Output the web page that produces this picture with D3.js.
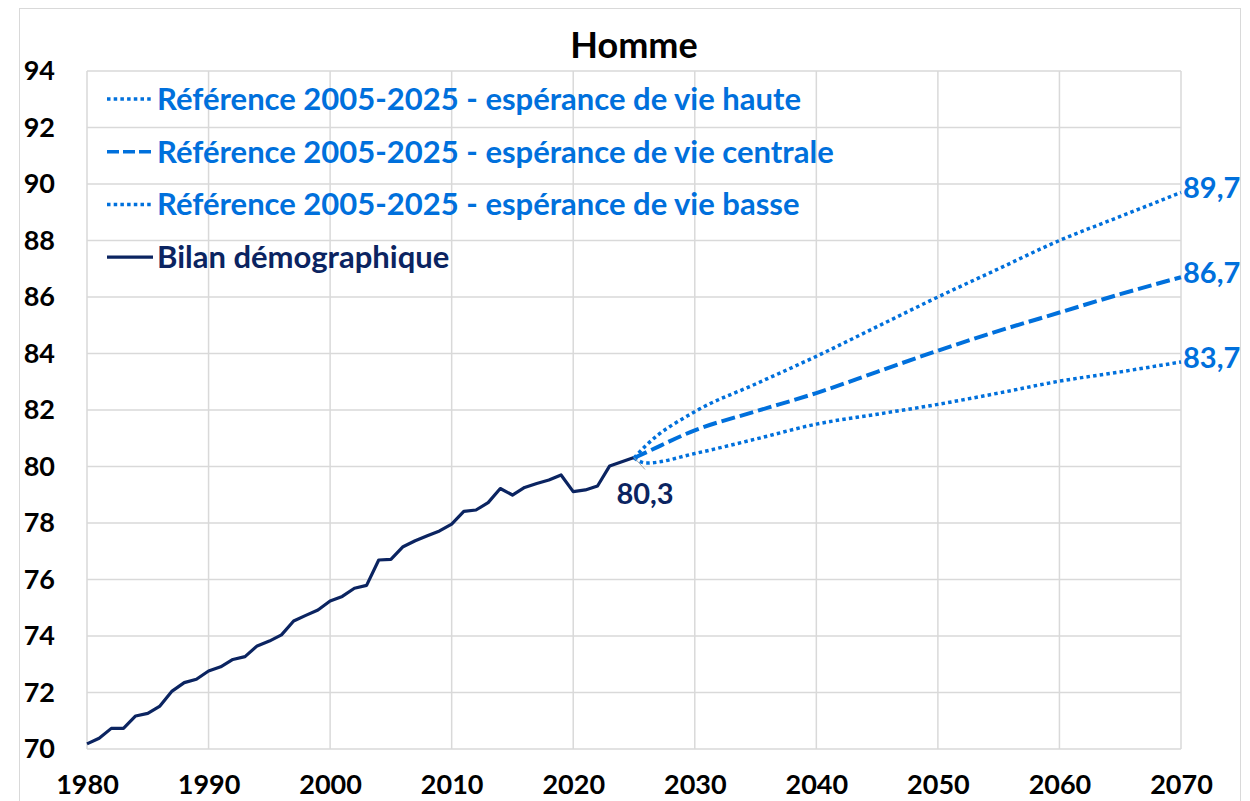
<!DOCTYPE html>
<html>
<head>
<meta charset="utf-8">
<title>Homme</title>
<script src="https://d3js.org/d3.v7.min.js"></script>
<style>
  body { margin: 0; background: white; }
  svg text { font-family: Lato, "Open Sans", sans-serif; font-weight: bold; }
</style>
</head>
<body>
<svg id="chart" width="1250" height="801"></svg>
<script>
// observed series, 1980-2025
const years = d3.range(1980, 2026);
const bilan = [70.18, 70.38, 70.73, 70.73, 71.17, 71.26, 71.52, 72.05, 72.35, 72.47,
               72.76, 72.91, 73.17, 73.27, 73.65, 73.82, 74.04, 74.53, 74.73, 74.92,
               75.24, 75.40, 75.69, 75.79, 76.69, 76.71, 77.16, 77.37, 77.55, 77.72,
               77.96, 78.41, 78.46, 78.72, 79.22, 78.99, 79.26, 79.40, 79.52, 79.70,
               79.11, 79.17, 79.31, 80.02, 80.17, 80.32];

// projections 2025-2070
const projYears = [2025, 2026, 2030, 2035, 2040, 2045, 2050, 2055, 2060, 2065, 2070];
const haute    = [80.3, 80.75, 81.94, 82.92, 83.9, 84.95, 86.0, 87.0, 88.0, 88.85, 89.7];
const centrale = [80.3, 80.5, 81.28, 81.95, 82.6, 83.35, 84.1, 84.8, 85.45, 86.1, 86.7];
const basse    = [80.3, 80.12, 80.46, 80.97, 81.5, 81.85, 82.2, 82.6, 83.02, 83.35, 83.7];

const xTicks = d3.range(1980, 2071, 10);
const yTicks = d3.range(70, 95, 2);
const legendLabels = [
  "Référence 2005-2025 - espérance de vie haute",
  "Référence 2005-2025 - espérance de vie centrale",
  "Référence 2005-2025 - espérance de vie basse",
  "Bilan démographique"
];
const endLabels = ["89,7", "86,7", "83,7"];

const navy = "#0b2461", blue = "#0070dc", grid = "#d9d9d9";

const svg = d3.select("#chart");
const m = {left: 87, right: 1181, top: 71, bottom: 749};

const x = d3.scaleLinear().domain([1980, 2070]).range([m.left, m.right]);
const y = d3.scaleLinear().domain([70, 94]).range([m.bottom, m.top]);

// outer frame
svg.append("rect").attr("x", 19.5).attr("y", 8.5).attr("width", 1221).attr("height", 810)
  .attr("fill", "none").attr("stroke", grid);

// grid
svg.append("g").selectAll("line").data(yTicks).join("line")
  .attr("x1", m.left).attr("x2", m.right)
  .attr("y1", d => y(d)).attr("y2", d => y(d))
  .attr("stroke", grid).attr("stroke-width", 1.5);
svg.append("g").selectAll("line").data(xTicks).join("line")
  .attr("x1", d => x(d)).attr("x2", d => x(d))
  .attr("y1", m.top).attr("y2", m.bottom)
  .attr("stroke", grid).attr("stroke-width", 1.5);

// axes labels
const yAxis = d3.axisLeft(y).tickValues(yTicks).tickSize(0).tickPadding(32);
svg.append("g").attr("transform", `translate(${m.left},0)`).call(yAxis)
  .call(g => g.select(".domain").remove())
  .selectAll("text").attr("font-size", 27).attr("fill", "#000")
  .attr("font-family", "Lato, sans-serif").attr("font-weight", "bold");

const xAxis = d3.axisBottom(x).tickValues(xTicks).tickSize(0).tickPadding(26).tickFormat(d3.format("d"));
svg.append("g").attr("transform", `translate(0,${m.bottom})`).call(xAxis)
  .call(g => g.select(".domain").remove())
  .selectAll("text").attr("font-size", 27).attr("fill", "#000")
  .attr("font-family", "Lato, sans-serif").attr("font-weight", "bold");

// title
svg.append("text").attr("x", 634).attr("y", 58).attr("text-anchor", "middle")
  .attr("font-size", 36).attr("fill", "#000").text("Homme");

// lines
const line = d3.line().x(d => x(d[0])).y(d => y(d[1]));
const smooth = d3.line().x(d => x(d[0])).y(d => y(d[1])).curve(d3.curveMonotoneX);

svg.append("path").datum(d3.zip(years, bilan)).attr("d", line)
  .attr("fill", "none").attr("stroke", navy).attr("stroke-width", 3.2)
  .attr("stroke-linejoin", "round");

const styles = [
  {vals: haute, dash: "3.5 3.2", w: 3.5},
  {vals: centrale, dash: "14 5", w: 4},
  {vals: basse, dash: "3.5 3.2", w: 3.5}
];
styles.forEach((s, i) => {
  svg.append("path").datum(d3.zip(projYears, s.vals)).attr("d", smooth)
    .attr("fill", "none").attr("stroke", blue).attr("stroke-width", s.w)
    .attr("stroke-dasharray", s.dash);
  svg.append("text").attr("x", x(2070) + 2).attr("y", y(s.vals[s.vals.length - 1]) + 6)
    .attr("font-size", 29).attr("fill", blue).text(endLabels[i]);
});

// 80,3 label with leader
const last = bilan[bilan.length - 1];
svg.append("line").attr("x1", x(2025)).attr("y1", y(last))
  .attr("x2", x(2025) + 11).attr("y2", y(last) + 12)
  .attr("stroke", "#a6a6a6").attr("stroke-width", 1);
svg.append("text").attr("x", 645).attr("y", 504).attr("text-anchor", "middle")
  .attr("font-size", 29).attr("fill", navy).text(d3.format(".1f")(last).replace(".", ","));

// legend
const leg = svg.append("g");
const legStyles = [
  {c: blue, dash: "3.5 3.2", w: 3.5},
  {c: blue, dash: "12 4", w: 3.5},
  {c: blue, dash: "3.5 3.2", w: 3.5},
  {c: navy, dash: null, w: 3.2}
];
legendLabels.forEach((t, i) => {
  const cy = 99 + i * 52.7;
  leg.append("line").attr("x1", 107).attr("x2", 153).attr("y1", cy).attr("y2", cy)
    .attr("stroke", legStyles[i].c).attr("stroke-width", legStyles[i].w)
    .attr("stroke-dasharray", legStyles[i].dash);
  leg.append("text").attr("x", 157).attr("y", cy + 11)
    .attr("font-size", 31).attr("fill", legStyles[i].c).text(t);
});
</script>
</body>
</html>
